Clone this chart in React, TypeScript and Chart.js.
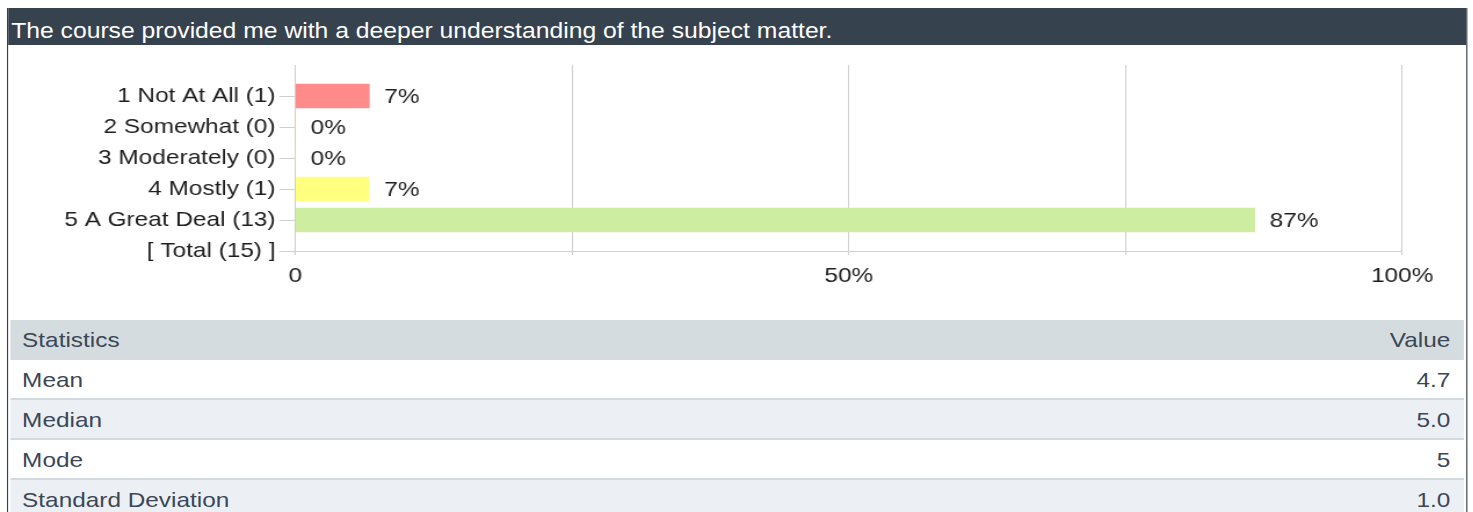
import React, { useEffect, useRef } from "react";
import { Chart, registerables } from "chart.js";

Chart.register(...registerables);

// ---------- data ----------
const title = "The course provided me with a deeper understanding of the subject matter.";
const categories = [
  "1 Not At All (1)",
  "2 Somewhat (0)",
  "3 Moderately (0)",
  "4 Mostly (1)",
  "5 A Great Deal (13)",
];
const totalLabel = "[ Total (15) ]";
const percentValues = [6.67, 0, 0, 6.67, 86.67];
const percentLabels = ["7%", "0%", "0%", "7%", "87%"];
const xTickValues = [0, 50, 100];
const xTickLabels = ["0", "50%", "100%"];
const statNames = ["Mean", "Median", "Mode", "Standard Deviation"];
const statValues = ["4.7", "5.0", "5", "1.0"];

// ---------- styles ----------
const barColors = ["#ff8a8a", "#ffc080", "#ffe080", "#ffff80", "#cdeea0"];
const SCALE_X = 1.16;
const FONT = 'Arial, "Liberation Sans", Helvetica, sans-serif';
const DARK = "#37424f";
const TEXT = "#3b4756";
const GRID = "#cfcfcf";
const CHART_FONT_SIZE = 21;

const valueLabelPlugin = {
  id: "valueLabels",
  afterDatasetsDraw(chart: any) {
    const { ctx } = chart;
    const meta = chart.getDatasetMeta(0);
    ctx.save();
    ctx.font = `${CHART_FONT_SIZE}px ${FONT}`;
    ctx.fillStyle = "#1e1e1e";
    ctx.textAlign = "left";
    ctx.textBaseline = "middle";
    percentLabels.forEach((label, i) => {
      const el = meta.data[i + 1];
      if (!el || !isFinite(el.x)) return;
      ctx.fillText(label, el.x + 13, el.y + 1);
    });
    ctx.restore();
  },
};

function BarChart() {
  const ref = useRef<HTMLCanvasElement | null>(null);
  useEffect(() => {
    if (!ref.current) return;
    const labels = ["", ...categories, totalLabel];
    const data = [null, ...percentValues, null];
    const colors = ["transparent", ...barColors, "transparent"];
    const chart = new Chart(ref.current, {
      type: "bar",
      data: {
        labels,
        datasets: [
          {
            data: data as any,
            backgroundColor: colors,
            borderWidth: 0,
            barThickness: 24,
          },
        ],
      },
      options: {
        indexAxis: "y",
        animation: false,
        responsive: true,
        maintainAspectRatio: false,
        layout: { padding: { top: 20, right: 53.7, bottom: 31, left: 0 } },
        plugins: {
          legend: { display: false },
          tooltip: { enabled: false },
        },
        scales: {
          x: {
            type: "linear",
            min: 0,
            max: 100,
            afterFit: (scale: any) => {
              scale.height = 38;
            },
            ticks: {
              stepSize: 25,
              autoSkip: false,
              maxRotation: 0,
              padding: 9,
              color: "#1e1e1e",
              font: { family: FONT, size: CHART_FONT_SIZE },
              callback: (v: any) => {
                const idx = xTickValues.indexOf(Number(v));
                return idx >= 0 ? xTickLabels[idx] : "";
              },
            },
            grid: { color: GRID, tickLength: 4, drawTicks: true },
            border: { display: true, color: GRID },
          },
          y: {
            type: "category",
            offset: false,
            afterFit: (scale: any) => {
              scale.width = 245.7;
            },
            ticks: {
              autoSkip: false,
              padding: 3.4,
              color: "#1e1e1e",
              font: { family: FONT, size: CHART_FONT_SIZE },
            },
            grid: {
              offset: false,
              drawOnChartArea: false,
              drawTicks: true,
              tickLength: 13.8,
              color: (ctx: any) => (ctx.index === 0 ? "rgba(0,0,0,0)" : GRID),
            },
            border: { display: true, color: GRID },
          },
        },
      },
      plugins: [valueLabelPlugin],
    });
    return () => chart.destroy();
  }, []);
  return (
    <div style={{ position: "relative", width: "100%", height: 275 }}>
      <canvas ref={ref} />
    </div>
  );
}

export default function App() {
  const innerPad = 1.75;
  return (
    <div
      style={{
        position: "absolute",
        left: 0,
        top: 0,
        width: 1269,
        height: 512,
        overflow: "hidden",
        transform: `scaleX(${SCALE_X})`,
        transformOrigin: "0 0",
        fontFamily: FONT,
      }}
    >
      <div
        style={{
          position: "absolute",
          left: 6,
          top: 8,
          width: 1259,
          height: 504,
          boxSizing: "border-box",
          borderLeft: `1.75px solid ${DARK}`,
          borderRight: `1.75px solid ${DARK}`,
          background: "#ffffff",
          overflow: "hidden",
        }}
      >
        <div
          style={{
            height: 37,
            boxSizing: "border-box",
            background: DARK,
            color: "#ffffff",
            fontSize: 21.3,
            lineHeight: "24px",
            paddingTop: 11,
            paddingLeft: 2.6,
            whiteSpace: "nowrap",
          }}
        >
          {title}
        </div>
        <div style={{ paddingLeft: innerPad, paddingRight: innerPad }}>
          <BarChart />
          <div style={{ color: TEXT, fontSize: 21 }}>
            <div
              style={{
                height: 40,
                lineHeight: "40px",
                background: "#d5dce0",
                display: "flex",
                justifyContent: "space-between",
                paddingLeft: 10.3,
                paddingRight: 12,
              }}
            >
              <span>Statistics</span>
              <span>Value</span>
            </div>
            {statNames.map((name, i) => (
              <div
                key={name}
                style={{
                  height: 38,
                  lineHeight: "40px",
                  borderTop: i === 0 ? "none" : "2px solid #d2dae1",
                  background: i % 2 === 1 ? "#ecf0f4" : "#ffffff",
                  display: "flex",
                  justifyContent: "space-between",
                  paddingLeft: 10.3,
                  paddingRight: 12,
                  overflow: "hidden",
                }}
              >
                <span>{name}</span>
                <span>{statValues[i]}</span>
              </div>
            ))}
          </div>
        </div>
      </div>
    </div>
  );
}
